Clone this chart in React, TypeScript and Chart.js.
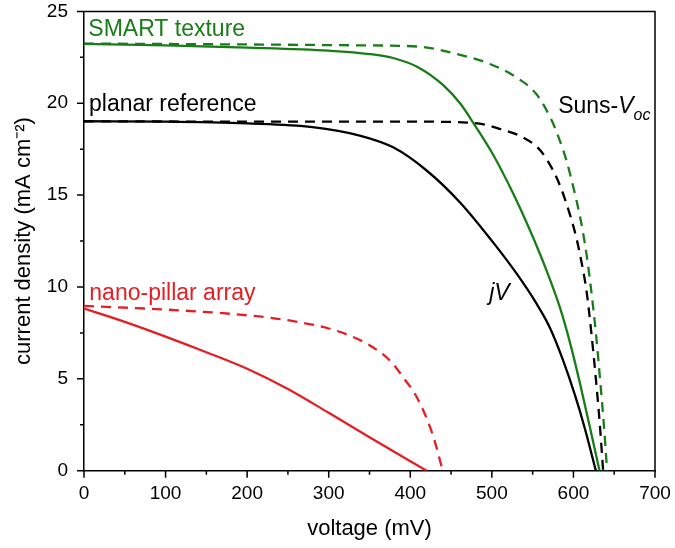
import React, { useEffect, useRef } from "react";
import { Chart, registerables } from "chart.js";

Chart.register(...registerables);

// ---- data (voltage in mV, current density in mA cm^-2) ----
const smartJvV = [0, 100, 200, 300, 350, 380, 410, 440, 461, 477, 501.6, 526, 546.6, 567, 583.3, 595.6, 607.8, 620, 632];
const smartJvJ = [23.23, 23.15, 23.03, 22.86, 22.68, 22.45, 21.95, 21.0, 20.0, 18.95, 17.2, 15.1, 13.1, 10.9, 8.9, 7.0, 4.8, 2.4, 0];

const smartSunsV = [0, 200, 342, 412, 457, 497.5, 530, 554.5, 573, 583.3, 591.5, 597.6, 603.8, 608, 612, 616, 621.3, 627.5, 632.4, 637.3, 641.3];
const smartSunsJ = [23.25, 23.2, 23.15, 23.08, 22.68, 22.14, 21.41, 20.5, 19.1, 17.97, 16.88, 15.85, 14.7, 13.85, 12.9, 11.8, 10.0, 7.5, 5.1, 2.5, 0];

const planarJvV = [0, 100, 200, 280, 338, 379, 420, 461, 502, 530, 554, 571, 587, 602, 614, 627.5];
const planarJvJ = [19.02, 19.0, 18.9, 18.7, 18.24, 17.6, 16.34, 14.6, 12.4, 10.75, 9.15, 7.8, 6.05, 4.1, 2.3, 0];

const planarSunsV = [0, 200, 400, 470, 490, 510, 538, 559, 575, 585, 596, 604, 611, 616, 622, 627.5, 632.4, 636.4];
const planarSunsJ = [19.02, 19.0, 19.0, 18.95, 18.85, 18.6, 18.15, 17.45, 16.35, 15.35, 13.9, 12.6, 11.1, 9.8, 7.5, 5.0, 2.5, 0];

const pillarJvV = [0, 50, 100, 150, 200, 250, 300, 350, 400, 420];
const pillarJvJ = [8.83, 8.1, 7.3, 6.45, 5.55, 4.45, 3.15, 1.82, 0.52, 0];

const pillarSunsV = [0, 100, 200, 250, 300, 330, 350, 375, 391, 408, 424, 432, 439.6];
const pillarSunsJ = [8.97, 8.77, 8.46, 8.19, 7.74, 7.28, 6.83, 6.0, 5.1, 4.0, 2.4, 1.3, 0];

const xMajorTicks = [0, 100, 200, 300, 400, 500, 600, 700];
const yMajorTicks = [0, 5, 10, 15, 20, 25];
const xMinorTicks = [50, 150, 250, 350, 450, 550, 650];
const yMinorTicks = [2.5, 7.5, 12.5, 17.5, 22.5];

const GREEN = "#187d18";
const RED = "#e61e24";
const BLACK = "#000000";
const FONT = "'Liberation Sans', Arial, sans-serif";

// text annotations anchored in data units (left edge, baseline)
const labelTexts = ["SMART texture", "planar reference", "nano-pillar array"];
const labelX = [5.3, 6.1, 6.5];
const labelY = [23.68, 19.6, 9.28];
const labelColors = [GREEN, BLACK, RED];

const sunsAnchor = { x: 581.3, y: 19.46 };
const jvAnchor = { x: 496.7, y: 9.28 };

const zip = (xs: number[], ys: number[]) => xs.map((x, i) => ({ x, y: ys[i] }));

const decorPlugin = {
  id: "decor",
  afterDraw(chart: any) {
    const { ctx, chartArea: a, scales } = chart;
    const xs = scales.x;
    const ys = scales.y;
    ctx.save();
    ctx.strokeStyle = "#000";
    ctx.lineWidth = 1.5;
    ctx.beginPath();
    ctx.moveTo(a.left, a.top);
    ctx.lineTo(a.right, a.top);
    ctx.lineTo(a.right, a.bottom);
    ctx.stroke();

    ctx.beginPath();
    for (const v of xMajorTicks) {
      const px = xs.getPixelForValue(v);
      ctx.moveTo(px, a.bottom);
      ctx.lineTo(px, a.bottom + 7);
    }
    for (const v of yMajorTicks) {
      const py = ys.getPixelForValue(v);
      ctx.moveTo(a.left, py);
      ctx.lineTo(a.left - 7, py);
    }
    for (const v of xMinorTicks) {
      const px = xs.getPixelForValue(v);
      ctx.moveTo(px, a.bottom);
      ctx.lineTo(px, a.bottom + 4);
    }
    for (const v of yMinorTicks) {
      const py = ys.getPixelForValue(v);
      ctx.moveTo(a.left, py);
      ctx.lineTo(a.left - 4, py);
    }
    ctx.stroke();

    ctx.textBaseline = "alphabetic";
    ctx.textAlign = "left";
    ctx.font = `23px ${FONT}`;
    labelTexts.forEach((t, i) => {
      ctx.fillStyle = labelColors[i];
      ctx.fillText(t, xs.getPixelForValue(labelX[i]), ys.getPixelForValue(labelY[i]));
    });

    // Suns-V_oc
    ctx.fillStyle = BLACK;
    let sx = xs.getPixelForValue(sunsAnchor.x);
    const sy = ys.getPixelForValue(sunsAnchor.y);
    ctx.font = `23px ${FONT}`;
    ctx.fillText("Suns-", sx, sy);
    sx += ctx.measureText("Suns-").width;
    ctx.font = `italic 23px ${FONT}`;
    ctx.fillText("V", sx, sy);
    sx += ctx.measureText("V").width;
    ctx.font = `italic 16px ${FONT}`;
    ctx.fillText("oc", sx, sy + 7);

    // jV
    ctx.font = `italic 23px ${FONT}`;
    ctx.fillText("jV", xs.getPixelForValue(jvAnchor.x), ys.getPixelForValue(jvAnchor.y));
    ctx.restore();
  },
};

export default function App() {
  const ref = useRef<HTMLCanvasElement | null>(null);

  useEffect(() => {
    if (!ref.current) return;
    const lw = 2.3;
    const dash = [10, 7];
    const mk = (data: any[], color: string, dashed: boolean) => ({
      data,
      borderColor: color,
      backgroundColor: color,
      borderWidth: lw,
      borderDash: dashed ? dash : [],
      pointRadius: 0,
      showLine: true,
      fill: false,
      cubicInterpolationMode: "monotone" as const,
    });
    const chart = new Chart(ref.current, {
      type: "scatter",
      data: {
        datasets: [
          mk(zip(smartSunsV, smartSunsJ), GREEN, true),
          mk(zip(planarSunsV, planarSunsJ), BLACK, true),
          mk(zip(pillarSunsV, pillarSunsJ), RED, true),
          mk(zip(smartJvV, smartJvJ), GREEN, false),
          mk(zip(planarJvV, planarJvJ), BLACK, false),
          mk(zip(pillarJvV, pillarJvJ), RED, false),
        ],
      },
      options: {
        animation: false,
        responsive: false,
        maintainAspectRatio: false,
        layout: { padding: { top: 0, right: 20, left: 0, bottom: 0 } },
        plugins: { legend: { display: false }, tooltip: { enabled: false } },
        scales: {
          x: {
            type: "linear",
            min: 0,
            max: 700,
            ticks: { stepSize: 100, color: "#000", font: { family: FONT, size: 19 }, padding: 0, maxRotation: 0 },
            grid: { display: true, drawOnChartArea: false, drawTicks: true, tickLength: 12, tickColor: "rgba(0,0,0,0)", color: "rgba(0,0,0,0)" },
            border: { display: true, color: "#000", width: 1.5 },
            title: { display: true, text: "voltage (mV)", color: "#000", font: { family: FONT, size: 22 }, padding: { top: 0, bottom: 6 } },
            afterFit: (s: any) => {
              s.height = 77.3;
            },
          },
          y: {
            type: "linear",
            min: 0,
            max: 25,
            ticks: { stepSize: 5, color: "#000", font: { family: FONT, size: 19 }, padding: 0 },
            grid: { display: true, drawOnChartArea: false, drawTicks: true, tickLength: 16, tickColor: "rgba(0,0,0,0)", color: "rgba(0,0,0,0)" },
            border: { display: true, color: "#000", width: 1.5 },
            title: { display: true, text: "current density (mA cm⁻²)", color: "#000", font: { family: FONT, size: 22 }, padding: { top: 11, bottom: 0 } },
            afterFit: (s: any) => {
              s.width = 84;
            },
          },
        },
      },
      plugins: [decorPlugin],
    });
    return () => chart.destroy();
  }, []);

  return (
    <div style={{ position: "absolute", left: 0, top: 0, width: 675, height: 548, background: "#fff" }}>
      <canvas ref={ref} width={675} height={548} style={{ display: "block" }} />
    </div>
  );
}
